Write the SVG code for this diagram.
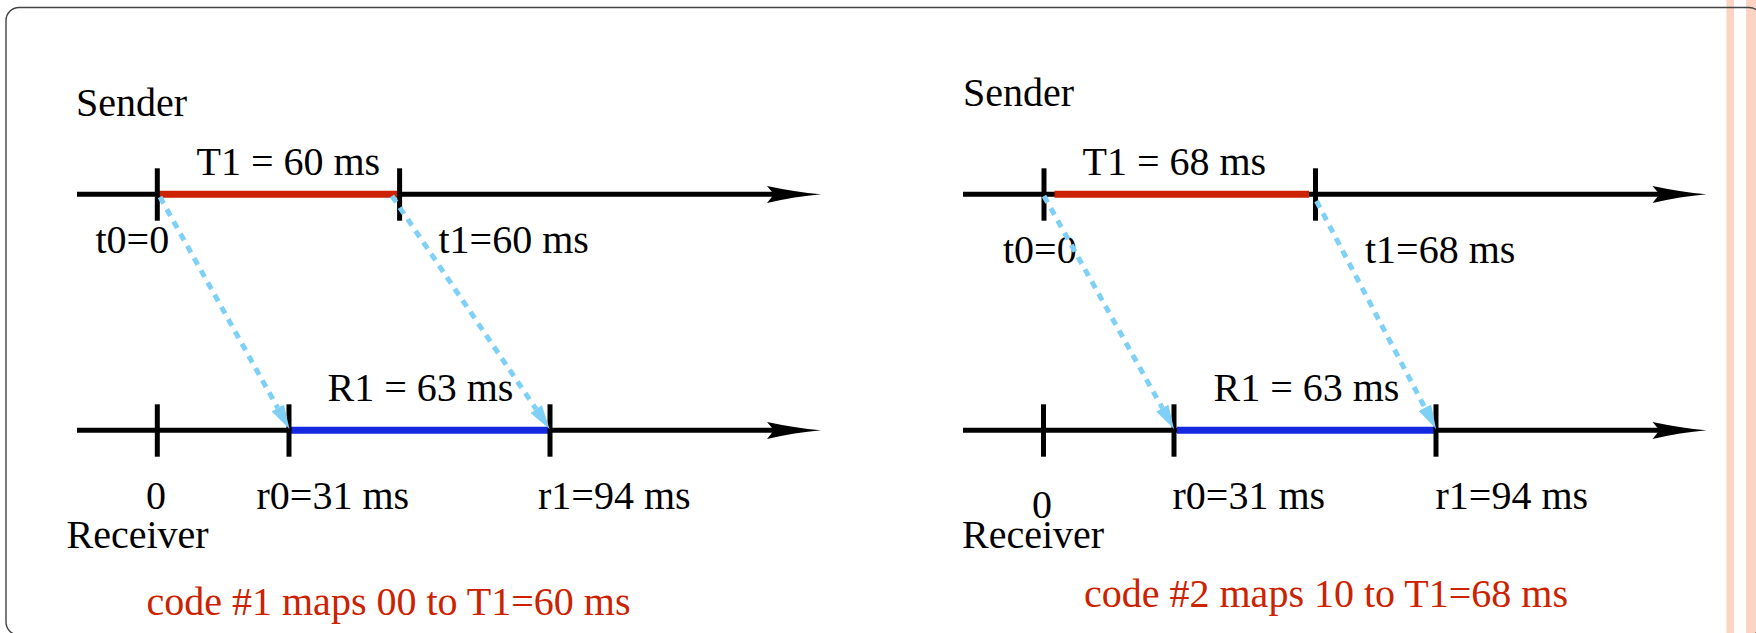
<svg xmlns="http://www.w3.org/2000/svg" width="1756" height="633" viewBox="0 0 1756 633">
<style>
text{font-family:"Liberation Serif","Times New Roman",serif;font-size:40px;fill:#000}
.cap{fill:#cc2200}
.axis{stroke:#000;stroke-width:5;fill:none}
.tick{stroke:#000;stroke-width:5}
.red{stroke:#cc2200;stroke-width:7}
.blue{stroke:#1428e0;stroke-width:7}
.msg{stroke:#7fd0f7;stroke-width:5;stroke-dasharray:7.5 6.5;fill:none}
.head{fill:#000}
.bar{fill:#fdd3c3}
</style>
<defs>
<marker id="ah" viewBox="0 0 24 14" refX="0" refY="7" markerWidth="24" markerHeight="14" markerUnits="userSpaceOnUse" orient="auto">
<path d="M0,0 L24,7 L0,14 Z" fill="#7fd0f7"/>
</marker>
</defs>
<rect class="bar" x="1726.5" y="0" width="7.5" height="633"/>
<rect class="bar" x="1746" y="0" width="10" height="633"/>
<rect x="6" y="7.5" width="1756" height="627.5" rx="13" fill="none" stroke="#444" stroke-width="1.4"/>

<g id="left-sender">
<line class="axis" x1="77" y1="194.3" x2="776" y2="194.3"/>
<path class="head" d="M767,186 Q795,192 821,194.3 Q795,196.6 767,203 L774,194.3 Z"/>
<line class="red" x1="159" y1="194.3" x2="398" y2="194.3"/>
<line class="tick" x1="157.3" y1="168.3" x2="157.3" y2="220.7"/>
<line class="tick" x1="399.6" y1="168.3" x2="399.6" y2="220.7"/>
<text x="76" y="116">Sender</text>
<text x="196.5" y="175">T1 = 60 ms</text>
<text x="95.5" y="253">t0=0</text>
<text x="438.5" y="253">t1=60 ms</text>
</g>
<g id="left-receiver">
<line class="axis" x1="77" y1="430.3" x2="776" y2="430.3"/>
<path class="head" d="M767,422 Q795,428 821,430.3 Q795,432.6 767,439 L774,430.3 Z"/>
<line class="blue" x1="289" y1="430.3" x2="550" y2="430.3"/>
<line class="tick" x1="157.3" y1="404.3" x2="157.3" y2="456.7"/>
<line class="tick" x1="289" y1="404.3" x2="289" y2="456.7"/>
<line class="tick" x1="550" y1="404.3" x2="550" y2="456.7"/>
<text x="327.5" y="401">R1 = 63 ms</text>
<text x="146" y="509">0</text>
<text x="256.5" y="509">r0=31 ms</text>
<text x="538" y="509">r1=94 ms</text>
<text x="66.5" y="548">Receiver</text>
<text class="cap" x="146.5" y="615">code #1 maps 00 to T1=60 ms</text>
</g>

<g id="right-sender">
<line class="axis" x1="963" y1="194.3" x2="1661.5" y2="194.3"/>
<path class="head" d="M1652.5,186 Q1680.5,192 1706.5,194.3 Q1680.5,196.6 1652.5,203 L1659.5,194.3 Z"/>
<line class="red" x1="1054.5" y1="194.3" x2="1309" y2="194.3"/>
<line class="tick" x1="1044" y1="168.3" x2="1044" y2="220.7"/>
<line class="tick" x1="1315.5" y1="168.3" x2="1315.5" y2="220.7"/>
<text x="963" y="106">Sender</text>
<text x="1082.5" y="175">T1 = 68 ms</text>
<text x="1003" y="263">t0=0</text>
<text x="1365" y="263">t1=68 ms</text>
</g>
<g id="right-receiver">
<line class="axis" x1="963" y1="430.3" x2="1661.5" y2="430.3"/>
<path class="head" d="M1652.5,422 Q1680.5,428 1706.5,430.3 Q1680.5,432.6 1652.5,439 L1659.5,430.3 Z"/>
<line class="blue" x1="1177" y1="430.3" x2="1436" y2="430.3"/>
<line class="tick" x1="1043.5" y1="404.3" x2="1043.5" y2="456.7"/>
<line class="tick" x1="1174" y1="404.3" x2="1174" y2="456.7"/>
<line class="tick" x1="1436" y1="404.3" x2="1436" y2="456.7"/>
<text x="1213.5" y="401">R1 = 63 ms</text>
<text x="1032" y="518">0</text>
<text x="1172.5" y="509">r0=31 ms</text>
<text x="1435.5" y="509">r1=94 ms</text>
<text x="962" y="548">Receiver</text>
<text class="cap" x="1084" y="607">code #2 maps 10 to T1=68 ms</text>
</g>

<g id="connectors">
<line class="msg" x1="160" y1="197" x2="277.8" y2="408" marker-end="url(#ah)"/>
<line class="msg" x1="392" y1="196" x2="536.1" y2="409.1" marker-end="url(#ah)"/>
<line class="msg" x1="1044" y1="196" x2="1162.3" y2="408" marker-end="url(#ah)"/>
<line class="msg" x1="1316.5" y1="201" x2="1424.9" y2="407.7" marker-end="url(#ah)"/>
</g>
</svg>
